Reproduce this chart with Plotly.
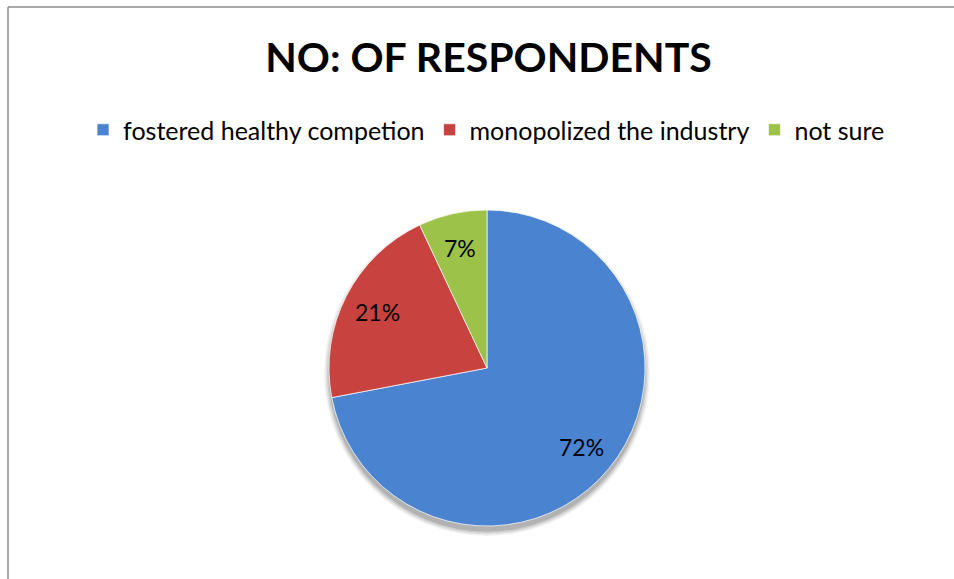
import math
import plotly.graph_objects as go

# Survey answers and their shares of respondents
categories = ["fostered healthy competion", "monopolized the industry", "not sure"]
shares = [72, 21, 7]
colors = ["#4a83d0", "#c8423f", "#9cc24a"]

W, H = 954, 579
cx, cy, r = 487, 368, 158  # pie centre and radius in pixels
label_radius = 0.78          # percentage labels sit at this fraction of the radius
font_family = "Lato, Carlito, sans-serif"

fig = go.Figure(
    go.Pie(
        labels=categories,
        values=shares,
        sort=False,
        direction="clockwise",
        rotation=0,
        marker=dict(colors=colors, line=dict(color="rgba(255,255,255,0.7)", width=1)),
        textinfo="none",
        domain=dict(
            x=[(cx - r) / W, (cx + r) / W],
            y=[1 - (cy + r) / H, 1 - (cy - r) / H],
        ),
        hoverinfo="label+percent",
    )
)

# Percentage labels placed at the middle angle of each slice
total = sum(shares)
annotations = []
start = 0.0
for value in shares:
    frac = value / total
    mid = (start + frac / 2) * 2 * math.pi  # clockwise from 12 o'clock
    px = cx + label_radius * r * math.sin(mid)
    py = cy - label_radius * r * math.cos(mid)
    annotations.append(dict(
        x=px / W, y=1 - py / H, xref="paper", yref="paper",
        text=f"{round(frac * 100)}%", showarrow=False,
        xanchor="center", yanchor="middle",
        font=dict(family=font_family, size=23, color="#000000"),
    ))
    start += frac

# soft drop shadow beneath the pie
shadow = []
for i, op in enumerate([0.05, 0.07, 0.09, 0.12]):
    rr = r + 5 - i * 1.5
    sx, sy = cx, cy + 5
    shadow.append(dict(
        type="circle", xref="paper", yref="paper", layer="below",
        x0=(sx - rr) / W, x1=(sx + rr) / W,
        y0=1 - (sy + rr) / H, y1=1 - (sy - rr) / H,
        fillcolor=f"rgba(0,0,0,{op})", line=dict(width=0),
    ))

fig.update_layout(
    width=W,
    height=H,
    margin=dict(l=0, r=0, t=0, b=0),
    paper_bgcolor="#ffffff",
    plot_bgcolor="#ffffff",
    title=dict(
        text="<b>NO: OF RESPONDENTS</b>",
        x=0.512,
        xanchor="center",
        y=1 - 58 / H,
        yanchor="middle",
        font=dict(family=font_family, size=41, color="#000000"),
    ),
    legend=dict(
        orientation="h",
        x=0.51,
        xanchor="center",
        y=1 - 130 / H,
        yanchor="middle",
        font=dict(family=font_family, size=25, color="#000000"),
        traceorder="normal",
    ),
    showlegend=True,
    annotations=annotations,
    shapes=shadow + [
        # chart-area frame on the top and left edges
        dict(type="line", xref="paper", yref="paper",
             x0=8 / W, x1=1, y0=1 - 7 / H, y1=1 - 7 / H,
             line=dict(color="#8c8c8c", width=1.5)),
        dict(type="line", xref="paper", yref="paper",
             x0=8 / W, x1=8 / W, y0=0, y1=1 - 7 / H,
             line=dict(color="#8c8c8c", width=1.5)),
    ],
)

fig.write_html("out.html")
